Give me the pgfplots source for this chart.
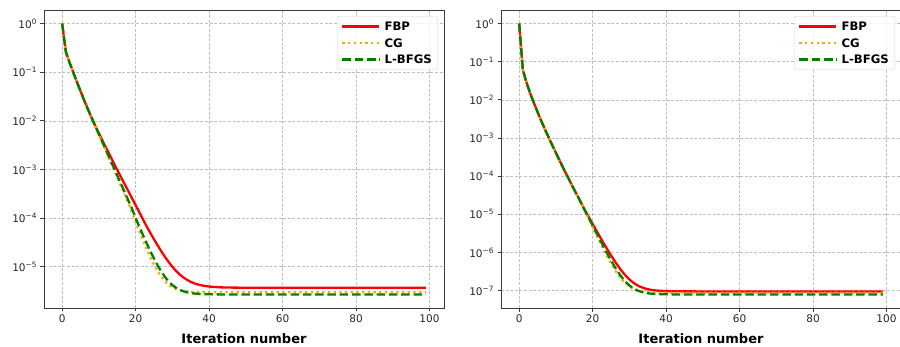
\documentclass[border=0pt]{standalone}
\usepackage{fontspec}
\setmainfont{DejaVu Sans}
\usepackage{pgfplots}
\usepackage{pgfplotstable}
\pgfplotsset{compat=1.18}
\definecolor{fbpc}{RGB}{255,0,0}
\definecolor{cgc}{RGB}{255,165,0}
\definecolor{lbc}{RGB}{0,128,0}
\definecolor{gridc}{RGB}{192,192,192}
\definecolor{spinec}{RGB}{60,60,60}

\pgfplotstableread{
k fbp cg lbfgs
0 1 1 1
1 0.263 0.263 0.263
2 0.158 0.158 0.158
3 0.100 0.100 0.100
4 0.0631 0.0631 0.0631
5 0.0407 0.0407 0.0407
6 0.0263 0.0263 0.0263
7 0.0174 0.0174 0.0174
8 0.0116 0.0116 0.0116
9 7.94e-3 7.76e-3 7.85e-3
10 5.56e-3 5.19e-3 5.31e-3
11 3.89e-3 3.47e-3 3.59e-3
12 2.75e-3 2.32e-3 2.43e-3
13 1.95e-3 1.55e-3 1.64e-3
14 1.38e-3 1.04e-3 1.11e-3
15 9.77e-4 6.92e-4 7.50e-4
16 7.00e-4 4.62e-4 5.07e-4
17 5.01e-4 3.09e-4 3.43e-4
18 3.59e-4 2.07e-4 2.32e-4
19 2.57e-4 1.31e-4 1.57e-4
20 1.84e-4 8.37e-5 9.98e-5
21 1.32e-4 5.39e-5 6.67e-5
22 9.44e-5 3.51e-5 4.49e-5
23 6.76e-5 2.32e-5 3.05e-5
24 4.97e-5 1.575e-5 2.10e-5
25 3.67e-5 1.104e-5 1.475e-5
26 2.74e-5 8.07e-6 1.064e-5
27 2.07e-5 6.20e-6 7.93e-6
28 1.59e-5 5.02e-6 6.15e-6
29 1.25e-5 4.27e-6 4.97e-6
30 1.00e-5 3.80e-6 4.20e-6
31 8.22e-6 3.51e-6 3.69e-6
32 6.95e-6 3.32e-6 3.35e-6
33 6.03e-6 3.20e-6 3.13e-6
34 5.37e-6 3.13e-6 2.98e-6
35 4.90e-6 3.08e-6 2.89e-6
36 4.56e-6 3.05e-6 2.82e-6
37 4.32e-6 3.03e-6 2.78e-6
38 4.14e-6 3.02e-6 2.75e-6
39 4.02e-6 3.01e-6 2.735e-6
40 3.93e-6 3.01e-6 2.72e-6
41 3.86e-6 3.00e-6 2.71e-6
42 3.82e-6 3.00e-6 2.71e-6
43 3.78e-6 3.00e-6 2.70e-6
44 3.76e-6 3.00e-6 2.70e-6
45 3.74e-6 3.00e-6 2.70e-6
50 3.71e-6 3.00e-6 2.70e-6
60 3.70e-6 3.00e-6 2.70e-6
70 3.70e-6 3.00e-6 2.70e-6
80 3.70e-6 3.00e-6 2.70e-6
90 3.70e-6 3.00e-6 2.70e-6
99 3.70e-6 3.00e-6 2.70e-6
}\lefttab

\pgfplotstableread{
k fbp cg lbfgs
0 1 1 1
1 0.0603 0.0603 0.0603
2 0.0282 0.0282 0.0282
3 0.0148 0.0148 0.0148
4 8.32e-3 8.32e-3 8.32e-3
5 4.79e-3 4.79e-3 4.79e-3
6 2.82e-3 2.82e-3 2.82e-3
7 1.70e-3 1.70e-3 1.70e-3
8 1.05e-3 1.05e-3 1.05e-3
9 6.46e-4 6.46e-4 6.46e-4
10 4.07e-4 4.07e-4 4.07e-4
11 2.57e-4 2.57e-4 2.57e-4
12 1.62e-4 1.62e-4 1.62e-4
13 1.05e-4 1.05e-4 1.05e-4
14 6.76e-5 6.76e-5 6.76e-5
15 4.37e-5 4.37e-5 4.37e-5
16 2.88e-5 2.88e-5 2.88e-5
17 1.86e-5 1.84e-5 1.86e-5
18 1.218e-5 1.164e-5 1.21e-5
19 8.20e-6 7.31e-6 7.99e-6
20 5.54e-6 4.60e-6 5.13e-6
21 3.75e-6 2.905e-6 3.31e-6
22 2.55e-6 1.848e-6 2.14e-6
23 1.74e-6 1.187e-6 1.40e-6
24 1.20e-6 7.75e-7 9.21e-7
25 8.37e-7 5.17e-7 6.17e-7
26 5.93e-7 3.56e-7 4.23e-7
27 4.29e-7 2.55e-7 2.99e-7
28 3.19e-7 1.92e-7 2.19e-7
29 2.455e-7 1.526e-7 1.69e-7
30 1.96e-7 1.28e-7 1.363e-7
31 1.628e-7 1.126e-7 1.156e-7
32 1.405e-7 1.03e-7 1.024e-7
33 1.255e-7 9.7e-8 9.40e-8
34 1.155e-7 9.33e-8 8.86e-8
35 1.088e-7 9.09e-8 8.51e-8
36 1.042e-7 8.94e-8 8.29e-8
37 1.012e-7 8.85e-8 8.15e-8
38 9.92e-8 8.79e-8 8.06e-8
39 9.78e-8 8.76e-8 8.00e-8
40 9.69e-8 8.74e-8 7.97e-8
42 9.58e-8 8.71e-8 7.93e-8
45 9.52e-8 8.70e-8 7.90e-8
50 9.50e-8 8.70e-8 7.90e-8
60 9.50e-8 8.70e-8 7.90e-8
70 9.50e-8 8.70e-8 7.90e-8
80 9.50e-8 8.70e-8 7.90e-8
90 9.50e-8 8.70e-8 7.90e-8
99 9.50e-8 8.70e-8 7.90e-8
}\righttab

\pgfplotsset{
  every axis/.append style={
    width=400pt, height=298pt, scale only axis,
    xmin=-4.95, xmax=103.95,
    xtick={0,20,40,60,80,100},
    tick pos=left, tick align=outside, major tick length=3.5pt,
    grid=major,
    major grid style={gridc, line width=0.6pt, dash pattern=on 3pt off 1.6pt},
    axis line style={spinec, line width=0.9pt},
    every tick label/.append style={font=\fontsize{10.5}{12}\selectfont, text=black!85},
    /pgf/number format/assume math mode=true,
    xlabel={\textbf{Iteration number}},
    xlabel style={font=\fontsize{13}{15}\selectfont, at={(axis description cs:0.5,0)}, anchor=base, yshift=-35pt},
    legend cell align=left,
    legend style={at={(1,1)}, anchor=north east, xshift=-6pt, yshift=-6pt,
      draw=gridc!70, rounded corners=2pt, fill=white, fill opacity=0.8, text opacity=1,
      font=\fontsize{11.7}{14}\selectfont\bfseries, row sep=4pt, column sep=2pt,
      inner xsep=4pt, inner ysep=4pt,
      nodes={text height=8.5pt, text depth=0pt}},
  },
  legend image code/.code={\draw[#1] (0pt,0pt) -- (37pt,0pt);},
}

\begin{document}
\begin{tikzpicture}
\begin{axis}[at={(0pt,0pt)}, anchor=south west,
  ymode=log, log basis y=10, yminorticks=false,
  ymin=1.42e-6, ymax=1.9,
  ytick={1,1e-1,1e-2,1e-3,1e-4,1e-5},
  yticklabels={10\textsuperscript{0},10\textsuperscript{−1},10\textsuperscript{−2},10\textsuperscript{−3},10\textsuperscript{−4},10\textsuperscript{−5}},
  tick style={spinec, line width=0.8pt},
]
\addplot[fbpc, line width=2.3pt, line join=round] table[x=k, y=fbp] {\lefttab};
\addlegendentry{FBP}
\addplot[cgc, line width=2.3pt, dash pattern=on 2.3pt off 3.4pt] table[x=k, y=cg] {\lefttab};
\addlegendentry{CG}
\addplot[lbc, line width=2.3pt, dash pattern=on 8.5pt off 3.8pt] table[x=k, y=lbfgs] {\lefttab};
\addlegendentry{L-BFGS}
\end{axis}
\begin{axis}[at={(457pt,0pt)}, anchor=south west,
  ymode=log, log basis y=10, yminorticks=false,
  ymin=3.49e-8, ymax=2.26,
  ytick={1,1e-1,1e-2,1e-3,1e-4,1e-5,1e-6,1e-7},
  yticklabels={10\textsuperscript{0},10\textsuperscript{−1},10\textsuperscript{−2},10\textsuperscript{−3},10\textsuperscript{−4},10\textsuperscript{−5},10\textsuperscript{−6},10\textsuperscript{−7}},
  tick style={spinec, line width=0.8pt},
]
\addplot[fbpc, line width=2.3pt, line join=round] table[x=k, y=fbp] {\righttab};
\addlegendentry{FBP}
\addplot[cgc, line width=2.3pt, dash pattern=on 2.3pt off 3.4pt] table[x=k, y=cg] {\righttab};
\addlegendentry{CG}
\addplot[lbc, line width=2.3pt, dash pattern=on 8.5pt off 3.8pt] table[x=k, y=lbfgs] {\righttab};
\addlegendentry{L-BFGS}
\end{axis}
\pgfresetboundingbox
\path[use as bounding box] (-44pt,-38pt) rectangle (856pt,308pt);
\end{tikzpicture}
\end{document}
